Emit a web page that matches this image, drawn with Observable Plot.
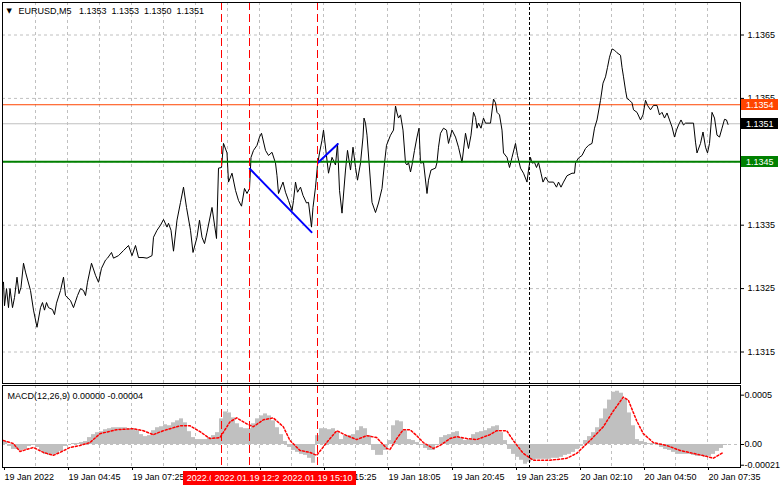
<!DOCTYPE html>
<html><head><meta charset="utf-8">
<script src="https://cdn.jsdelivr.net/npm/d3@7"></script>
<script src="https://cdn.jsdelivr.net/npm/@observablehq/plot@0.6"></script>
<style>
html,body{margin:0;padding:0;background:#fff;}
#chart{position:relative;width:781px;height:489px;overflow:hidden;background:#fff;}
#chart svg{position:absolute;left:0;}
</style></head><body><div id="chart"></div>
<script>
const symbolTitle = "EURUSD,M5\u00a0\u00a0 1.1353\u00a0 1.1353\u00a0 1.1350\u00a0 1.1351";
const macdTitle = "MACD(12,26,9) 0.00000 -0.00004";

// [bar position, close price]
const closeSeries = [[0,1.13260],[0.5,1.13223],[1.5,1.13250],[2.5,1.13220],[3.25,1.13250],[4.5,1.13220],[5.5,1.13236],[6.75,1.13268],[7.75,1.13242],[8.75,1.13252],[10,1.13290],[11,1.13276],[13.5,1.13247],[15,1.13216],[16.75,1.13189],[18.5,1.13220],[19.5,1.13228],[20.5,1.13216],[21.5,1.13228],[22.5,1.13220],[24.5,1.13217],[25.5,1.13209],[26.5,1.13227],[28.5,1.13247],[30,1.13268],[31,1.13239],[33.5,1.13231],[35,1.13220],[37,1.13239],[38.5,1.13250],[40,1.13247],[41,1.13239],[42,1.13260],[44,1.13290],[46,1.13271],[47.5,1.13260],[49,1.13282],[51,1.13295],[52,1.13298],[54,1.13307],[55,1.13298],[57.5,1.13302],[60,1.13310],[62.5,1.13318],[64.25,1.13302],[66,1.13318],[67.5,1.13299],[69.75,1.13299],[71.75,1.13298],[74.25,1.13302],[75,1.13331],[76.75,1.13342],[78.5,1.13350],[80,1.13359],[81.75,1.13347],[82.5,1.13353],[83.75,1.13342],[85,1.13309],[86.75,1.13358],[88.5,1.13386],[90,1.13410],[91.5,1.13378],[93.5,1.13342],[94.75,1.13307],[96.75,1.13331],[98,1.13358],[99.25,1.13331],[100.5,1.13321],[101.75,1.13339],[104.25,1.13378],[106.5,1.13329],[107.5,1.13440],[109,1.13441],[110,1.13479],[111.75,1.13464],[112.5,1.13418],[114.25,1.13432],[116,1.13405],[117.5,1.13389],[119,1.13380],[120.5,1.13408],[121.75,1.13400],[123,1.13408],[123.75,1.13457],[125,1.13468],[126.75,1.13476],[128,1.13489],[129,1.13495],[131,1.13468],[132.5,1.13460],[134.25,1.13465],[136,1.13448],[136.75,1.13428],[137.5,1.13400],[139.75,1.13418],[141,1.13402],[142.5,1.13389],[144.25,1.13373],[145,1.13389],[146,1.13418],[147,1.13402],[148.5,1.13410],[149.75,1.13397],[151.5,1.13385],[152.5,1.13386],[154,1.13347],[154.75,1.13378],[156,1.13410],[157,1.13445],[158,1.13464],[159.25,1.13484],[160,1.13500],[162.5,1.13432],[164.25,1.13457],[166,1.13445],[167,1.13479],[168,1.13405],[169.25,1.13369],[171,1.13437],[172,1.13468],[173.5,1.13437],[174.75,1.13473],[176,1.13441],[177,1.13421],[178.5,1.13448],[179.75,1.13489],[180.25,1.13519],[181,1.13511],[181.75,1.13492],[184.25,1.13386],[186,1.13370],[187.5,1.13385],[189.25,1.13408],[190.5,1.13448],[191.5,1.13476],[193.5,1.13492],[195,1.13500],[196,1.13538],[196.75,1.13527],[197.5,1.13519],[198.5,1.13524],[199.75,1.13500],[201,1.13448],[201.75,1.13445],[202.5,1.13449],[203.5,1.13434],[204.25,1.13445],[205.5,1.13468],[206.75,1.13489],[207.75,1.13503],[208.5,1.13448],[210,1.13449],[211.75,1.13400],[212.5,1.13421],[213.75,1.13437],[216,1.13440],[216.75,1.13449],[217.5,1.13473],[218.5,1.13495],[220,1.13503],[221.5,1.13500],[222.5,1.13479],[224.25,1.13500],[226,1.13489],[227.5,1.13473],[229.25,1.13449],[231,1.13495],[232.5,1.13471],[233.75,1.13492],[235,1.13528],[236,1.13520],[236.75,1.13503],[237.5,1.13511],[238.75,1.13503],[240,1.13519],[241,1.13511],[243.5,1.13511],[245,1.13549],[246,1.13543],[246.75,1.13528],[248,1.13524],[249.25,1.13500],[250,1.13464],[251.75,1.13457],[253,1.13441],[254.25,1.13457],[256,1.13479],[257,1.13460],[258.5,1.13440],[260,1.13432],[261.75,1.13418],[262.5,1.13437],[263.5,1.13457],[264.25,1.13448],[265.5,1.13449],[266.5,1.13441],[267.5,1.13449],[268.75,1.13432],[269.75,1.13418],[271,1.13426],[272.5,1.13418],[275,1.13418],[276.5,1.13410],[277.5,1.13418],[278.75,1.13410],[280,1.13418],[281.75,1.13428],[284.25,1.13432],[285.5,1.13432],[286,1.13448],[287.5,1.13456],[289.25,1.13460],[291,1.13471],[292.5,1.13476],[294.25,1.13479],[295.5,1.13503],[296.75,1.13516],[298.5,1.13547],[299.75,1.13574],[301,1.13584],[302,1.13599],[303,1.13615],[304.25,1.13628],[305.5,1.13626],[306.75,1.13622],[308.5,1.13618],[309.25,1.13599],[310,1.13584],[311,1.13563],[311.75,1.13550],[313,1.13547],[314.25,1.13543],[315,1.13532],[316.75,1.13528],[318.5,1.13516],[319.75,1.13524],[321,1.13547],[322,1.13539],[323.5,1.13532],[325,1.13539],[326.75,1.13539],[328,1.13524],[329.25,1.13528],[330.5,1.13519],[331.75,1.13527],[333,1.13516],[334.25,1.13505],[335.5,1.13489],[336.5,1.13500],[337.5,1.13508],[338.75,1.13516],[340,1.13508],[341,1.13511],[345,1.13511],[346,1.13481],[346.75,1.13464],[348.5,1.13479],[349.75,1.13497],[351,1.13473],[352,1.13464],[353,1.13479],[354.25,1.13528],[355.5,1.13519],[356.75,1.13492],[358,1.13489],[359.25,1.13503],[360.5,1.13517],[361.5,1.13516],[362.25,1.13509]];

const priceTicks = [1.1365, 1.1355, 1.1345, 1.1335, 1.1325, 1.1315];
const gridBars = [16,32,48,64,80,96,112,128,144,160,176,192,208,224,240,256,272,288,304,320,336,352];
const timeTickBars = [0,32,64,96,128,160,192,224,256,288,320,352];
const timeTickLabels = ["19 Jan 2022","19 Jan 04:45","19 Jan 07:25","19 Jan 10:05","19 Jan 12:45","19 Jan 15:25","19 Jan 18:05","19 Jan 20:45","19 Jan 23:25","20 Jan 02:10","20 Jan 04:50","20 Jan 07:35"];
const eventBars = [109, 123, 157];
const eventLabels = ["2022.01.19 11:10", "2022.01.19 12:20", "2022.01.19 15:10"];
const sessionBars = [263];
const levelValues = [1.1354, 1.1351, 1.1345];
const levelColors = ["#ff4500", "#000000", "#008000"];
const trendDown = [[123.15, 1.13439], [154, 1.13339]];
const trendUp = [[157.35, 1.13449], [167.15, 1.13478]];

// MACD main line (histogram): one value per 2-bar group, starting at bar 0
const histValues = [
0.00003,-0.00002,-0.00005,-0.00005,-0.00006,-0.00005,-0.00002,-0.00001,-0.00003,-0.00007,
-0.00010,-0.00011,-0.00011,-0.00010,-0.00007,-0.00002,0.00000,0.00001,0.00001,0.00002,
0.00003,0.00007,0.00010,0.00012,0.00013,0.00015,0.00016,0.00017,0.00017,0.00017,
0.00017,0.00016,0.00016,0.00014,0.00010,0.00008,0.00009,0.00014,0.00017,0.00018,
0.00020,0.00019,0.00022,0.00024,0.00026,0.00022,0.00013,0.00007,0.00005,0.00005,
0.00005,0.00007,0.00009,0.00012,0.00026,0.00033,0.00032,0.00027,0.00021,0.00017,
0.00016,0.00016,0.00021,0.00026,0.00029,0.00031,0.00029,0.00024,0.00017,0.00010,
0.00003,-0.00003,-0.00006,-0.00008,-0.00010,-0.00011,-0.00014,-0.00019,0.00009,0.00016,
0.00016,0.00015,0.00016,0.00012,0.00005,0.00009,0.00009,0.00010,0.00014,0.00018,
0.00016,0.00009,-0.00006,-0.00011,-0.00011,-0.00006,0.00004,0.00019,0.00024,0.00023,
0.00014,0.00005,0.00004,0.00002,-0.00001,-0.00004,-0.00006,-0.00006,-0.00001,0.00007,
0.00009,0.00010,0.00012,0.00013,0.00007,0.00004,0.00005,0.00010,0.00012,0.00013,
0.00014,0.00016,0.00018,0.00019,0.00012,0.00004,-0.00005,-0.00010,-0.00013,-0.00016,
-0.00020,-0.00018,-0.00016,-0.00015,-0.00015,-0.00015,-0.00015,-0.00014,-0.00014,-0.00013,
-0.00011,-0.00010,-0.00008,-0.00005,-0.00002,0.00004,0.00008,0.00012,0.00017,0.00026,
0.00036,0.00045,0.00053,0.00054,0.00052,0.00046,0.00032,0.00019,0.00005,0.00003,
0.00002,0.00001,0.00001,-0.00001,-0.00003,-0.00005,-0.00006,-0.00008,-0.00010,-0.00010,
-0.00010,-0.00010,-0.00011,-0.00012,-0.00012,-0.00013,-0.00012,-0.00010,-0.00007,-0.00004,
-0.00001];
const histGroupBars = 2;
const signalSeries = [[0,0.00004],[4.9,0.00001],[8.25,-0.00007],[14.9,-0.00003],[19.9,-0.00008],[24.9,-0.00011],[28.25,-0.00008],[33.25,-0.00003],[38.25,-0.00001],[43.25,0.00002],[48.25,0.00011],[56.6,0.00015],[64.9,0.00016],[69.9,0.00014],[74.9,0.00010],[79.9,0.00014],[88.25,0.00019],[93.25,0.00019],[98.25,0.00013],[103.25,0.00006],[108.25,0.00007],[113.25,0.00023],[116.6,0.00027],[121.6,0.00021],[124.9,0.00018],[129.9,0.00025],[134.9,0.00027],[139.9,0.00018],[143.25,0.00004],[148.25,-0.00006],[153.25,-0.00008],[156.6,-0.00011],[161.6,0.00002],[166.6,0.00014],[171.6,0.00009],[176.6,0.00005],[181.6,0.00009],[186.6,0.00007],[191.6,-0.00004],[193.25,-0.00005],[196.6,0.00006],[199.9,0.00015],[203.25,0.00015],[206.6,0.00009],[209.9,0.00002],[214.9,-0.00004],[218.25,-0.00001],[223.25,0.00006],[226.6,0.00008],[231.6,0.00006],[236.6,0.00005],[243.25,0.00010],[246.6,0.00014],[251.6,0.00014],[254.9,0.00004],[259.9,-0.00009],[264.9,-0.00016],[273.25,-0.00016],[281.6,-0.00014],[286.6,-0.00009],[293.25,0.00004],[299.9,0.00018],[304.9,0.00034],[309.9,0.00048],[312.4,0.00045],[316.6,0.00024],[319.9,0.00011],[324.9,0.00002],[331.6,-0.00001],[338.25,-0.00006],[344.9,-0.00009],[351.6,-0.00012],[354.9,-0.00014],[359.9,-0.00008]];
const macdTicks = [0.0005, 0, -0.00021];
const macdTickLabels = ["0.0005", "0.00", "-0.00021"];

const FONT = "'Liberation Sans', Arial, sans-serif";
const W = 781;
const xDomain = [0, 368.5];
const xRange = [3, 740];
const gridStyle = {stroke: "#c0c0c0", strokeDasharray: "3,3"};

const closeData = closeSeries.map(([bar, close]) => ({bar, close}));
const histData = histValues.map((v, i) => ({b1: i * histGroupBars, b2: (i + 1) * histGroupBars, v}));
const signalData = signalSeries.map(([bar, v]) => ({bar, v}));
const timeLabelMap = new Map(timeTickBars.map((b, i) => [b, timeTickLabels[i]]));
const macdLabelMap = new Map(macdTicks.map((t, i) => [t, macdTickLabels[i]]));

const tagMark = Plot.text(levelValues, {
  y: d => d, frameAnchor: "right", text: d => d.toFixed(4),
  render(index, scales, vals, dims) {
    const g = d3.create("svg:g").attr("font-family", FONT).attr("font-size", 9).attr("text-anchor", "start");
    const x0 = dims.width - dims.marginRight;
    for (const i of index) {
      const y = Math.round(scales.y(levelValues[i]));
      g.append("rect").attr("x", x0 + 1).attr("y", y - 5).attr("width", 37).attr("height", 11).attr("fill", levelColors[i]);
      g.append("text").attr("x", x0 + 6).attr("y", y + 0.5).attr("dy", "0.35em").attr("text-anchor", "start").attr("fill", "#fff").text(levelValues[i].toFixed(4));
    }
    return g.node();
  }
});

const main = Plot.plot({
  width: W, height: 385,
  marginLeft: 2, marginRight: 41, marginTop: 2, marginBottom: 2,
  style: {background: "transparent", fontFamily: FONT, fontSize: "9px", overflow: "visible", color: "#000"},
  x: {domain: xDomain, range: xRange, axis: null},
  y: {domain: [1.131, 1.137], range: [383.2, 2.8]},
  marks: [
    Plot.ruleY(priceTicks, gridStyle),
    Plot.ruleX(gridBars, gridStyle),
    Plot.ruleY([levelValues[0]], {stroke: levelColors[0]}),
    Plot.ruleY([levelValues[1]], {stroke: "#c0c0c0"}),
    Plot.line(closeData, {x: "bar", y: "close", stroke: "#000", strokeWidth: 1}),
    Plot.ruleY([levelValues[2]], {stroke: levelColors[2], strokeWidth: 2}),
    Plot.line(trendDown, {x: d => d[0], y: d => d[1], stroke: "#0000ff", strokeWidth: 2}),
    Plot.line(trendUp, {x: d => d[0], y: d => d[1], stroke: "#0000ff", strokeWidth: 2}),
    Plot.ruleX(eventBars, {stroke: "#ff0000", strokeDasharray: "8,4"}),
    Plot.ruleX(sessionBars, {stroke: "#000", strokeDasharray: "3,2"}),
    Plot.frame({stroke: "#000"}),
    Plot.axisY(priceTicks, {anchor: "right", tickSize: 3, tickPadding: 4, tickFormat: d => d.toFixed(4), fontSize: 9, label: null}),
    tagMark,
    Plot.text(["\u25BC"], {frameAnchor: "top-left", dx: 4, dy: 8, fontSize: 7, fontFamily: "DejaVu Sans", lineAnchor: "middle", textAnchor: "start", fill: "#000"}),
    Plot.text([symbolTitle], {frameAnchor: "top-left", dx: 16, dy: 9, fontSize: 9, lineAnchor: "middle", textAnchor: "start", fill: "#000"})
  ]
});

const eventMark = Plot.text(eventBars, {
  x: d => d, frameAnchor: "bottom", text: (d, i) => eventLabels[i],
  render(index, scales, vals, dims) {
    const g = d3.create("svg:g").attr("font-family", FONT).attr("font-size", 9);
    const yb = dims.height - dims.marginBottom;
    for (const i of index) {
      const cx = Math.round(scales.x(eventBars[i]));
      g.append("rect").attr("x", cx - 38).attr("y", yb + 4).attr("width", 77).attr("height", 14).attr("fill", "#ff0000");
      g.append("text").attr("x", cx + 0.5).attr("y", yb + 11).attr("dy", "0.35em").attr("text-anchor", "middle").attr("fill", "#fff").text(eventLabels[i]);
    }
    return g.node();
  }
});

const macd = Plot.plot({
  width: W, height: 104,
  marginLeft: 2, marginRight: 41, marginTop: 0, marginBottom: 22,
  style: {background: "transparent", fontFamily: FONT, fontSize: "9px", overflow: "visible", color: "#000"},
  x: {domain: xDomain, range: xRange},
  y: {domain: [-0.000233, 0.000598], range: [82, 0]},
  marks: [
    Plot.ruleX(gridBars, gridStyle),
    Plot.ruleY([0], gridStyle),
    Plot.rect(histData, {x1: "b1", x2: "b2", y1: 0, y2: "v", fill: "#c0c0c0"}),
    Plot.line(signalData, {x: "bar", y: "v", stroke: "#ff0000", strokeDasharray: "2,2"}),
    Plot.ruleX(eventBars, {stroke: "#ff0000", strokeDasharray: "8,4"}),
    Plot.ruleX(sessionBars, {stroke: "#000", strokeDasharray: "3,2"}),
    Plot.frame({stroke: "#000"}),
    Plot.axisY(macdTicks, {anchor: "right", tickSize: 3, tickPadding: 1, tickFormat: d => macdLabelMap.get(d), fontSize: 9, label: null}),
    Plot.axisX(timeTickBars, {anchor: "bottom", tickSize: 3, tickPadding: 3, tickFormat: d => timeLabelMap.get(d), textAnchor: "start", dx: 1, fontSize: 9, label: null}),
    eventMark,
    Plot.text([macdTitle], {frameAnchor: "top-left", dx: 5, dy: 11, fontSize: 9, lineAnchor: "middle", textAnchor: "start", fill: "#000"})
  ]
});

const chart = document.getElementById("chart");
main.style.top = "0px";
macd.style.top = "385px";
chart.appendChild(main);
chart.appendChild(macd);
</script></body></html>
